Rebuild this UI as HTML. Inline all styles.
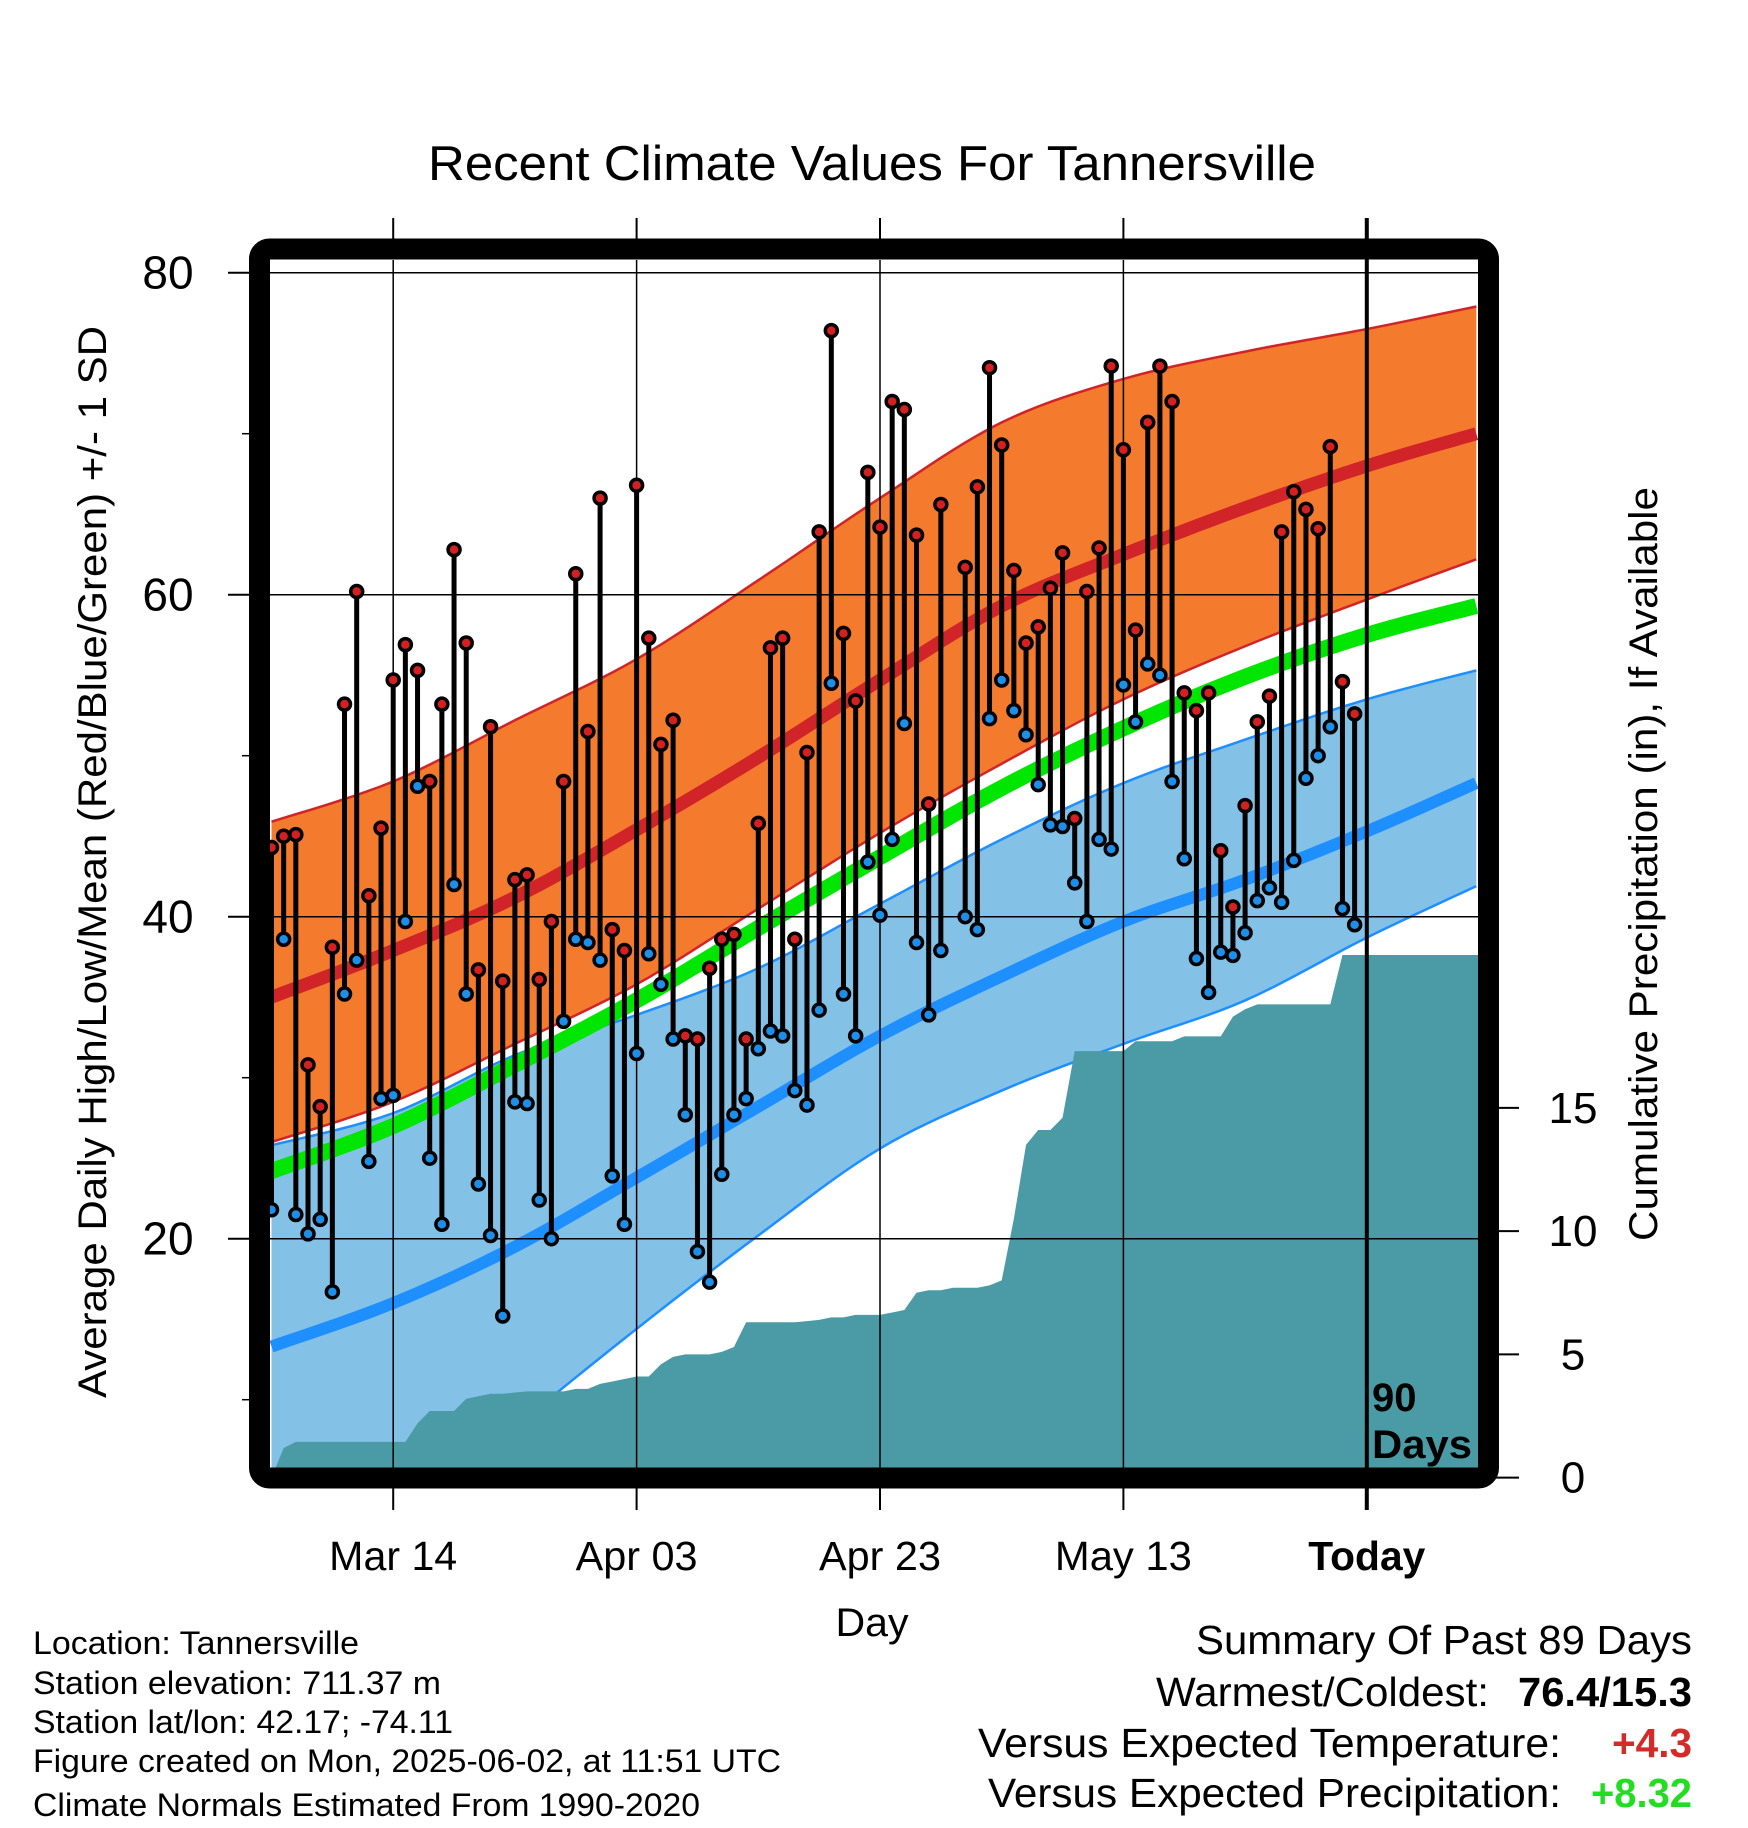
<!DOCTYPE html>
<html><head><meta charset="utf-8"><style>
body{margin:0;background:#fff;}
svg{display:block;font-family:"Liberation Sans",sans-serif;}
</style></head><body>
<svg id="chart" width="1748" height="1828" viewBox="0 0 1748 1828" xmlns="http://www.w3.org/2000/svg">
<text x="872" y="180" font-size="49" text-anchor="middle" textLength="888" lengthAdjust="spacingAndGlyphs">Recent Climate Values For Tannersville</text>
<defs><clipPath id="plotclip"><rect x="270" y="260" width="1208" height="1208"/></clipPath></defs>
<g id="plot" clip-path="url(#plotclip)"></g>
<g id="overlay"></g>
<text transform="translate(106,862) rotate(-90)" font-size="40" text-anchor="middle" textLength="1072" lengthAdjust="spacingAndGlyphs">Average Daily High/Low/Mean (Red/Blue/Green) +/- 1 SD</text>
<text transform="translate(1657,864) rotate(-90)" font-size="40" text-anchor="middle" textLength="754" lengthAdjust="spacingAndGlyphs">Cumulative Precipitation (in), If Available</text>
<text x="872" y="1636" font-size="40" text-anchor="middle" textLength="73" lengthAdjust="spacingAndGlyphs">Day</text>
<g font-size="32" lengthAdjust="spacingAndGlyphs">
<text x="33" y="1654" textLength="326" lengthAdjust="spacingAndGlyphs">Location: Tannersville</text>
<text x="33" y="1694" textLength="408" lengthAdjust="spacingAndGlyphs">Station elevation: 711.37 m</text>
<text x="33" y="1733" textLength="420" lengthAdjust="spacingAndGlyphs">Station lat/lon: 42.17; -74.11</text>
<text x="33" y="1772" textLength="748" lengthAdjust="spacingAndGlyphs">Figure created on Mon, 2025-06-02, at 11:51 UTC</text>
<text x="33" y="1816" textLength="667" lengthAdjust="spacingAndGlyphs">Climate Normals Estimated From 1990-2020</text>
</g>
<g font-size="41">
<text x="1196" y="1654" textLength="496" lengthAdjust="spacingAndGlyphs">Summary Of Past 89 Days</text>
<text x="1156" y="1706" textLength="333" lengthAdjust="spacingAndGlyphs">Warmest/Coldest:</text>
<text x="1518" y="1706" font-weight="bold" textLength="174" lengthAdjust="spacingAndGlyphs">76.4/15.3</text>
<text x="978" y="1757" textLength="583" lengthAdjust="spacingAndGlyphs">Versus Expected Temperature:</text>
<text x="1612" y="1757" font-weight="bold" fill="#d42a2a" textLength="80" lengthAdjust="spacingAndGlyphs">+4.3</text>
<text x="988" y="1807" textLength="573" lengthAdjust="spacingAndGlyphs">Versus Expected Precipitation:</text>
<text x="1591" y="1807" font-weight="bold" fill="#22dd22" textLength="101" lengthAdjust="spacingAndGlyphs">+8.32</text>
</g>
</svg>
<script>
const highs=[44.3,45.0,45.1,30.8,28.2,38.1,53.2,60.2,41.3,45.5,54.7,56.9,55.3,48.4,53.2,62.8,57.0,36.7,51.8,36.0,42.3,42.6,36.1,39.7,48.4,61.3,51.5,66.0,39.2,37.9,66.8,57.3,50.7,52.2,32.6,32.4,36.8,38.6,38.9,32.4,45.8,56.7,57.3,38.6,50.2,63.9,76.4,57.6,53.4,67.6,64.2,72.0,71.5,63.7,47.0,65.6,null,61.7,66.7,74.1,69.3,61.5,57.0,58.0,60.4,62.6,46.1,60.2,62.9,74.2,69.0,57.8,70.7,74.2,72.0,53.9,52.8,53.9,44.1,40.6,46.9,52.1,53.7,63.9,66.4,65.3,64.1,69.2,54.6,52.6];
const lows=[21.8,38.6,21.5,20.3,21.2,16.7,35.2,37.3,24.8,28.7,28.9,39.7,48.1,25.0,20.9,42.0,35.2,23.4,20.2,15.2,28.5,28.4,22.4,20.0,33.5,38.6,38.4,37.3,23.9,20.9,31.5,37.7,35.8,32.4,27.7,19.2,17.3,24.0,27.7,28.7,31.8,32.9,32.6,29.2,28.3,34.2,54.5,35.2,32.6,43.4,40.1,44.8,52.0,38.4,33.9,37.9,null,40.0,39.2,52.3,54.7,52.8,51.3,48.2,45.7,45.6,42.1,39.7,44.8,44.2,54.4,52.1,55.7,55.0,48.4,43.6,37.4,35.3,37.8,37.6,39.0,41.0,41.8,40.9,43.5,48.6,50.0,51.8,40.5,39.5];
const precip=[0.0,1.2,1.45,1.45,1.45,1.45,1.45,1.45,1.45,1.45,1.45,1.45,2.2,2.7,2.7,2.7,3.2,3.3,3.4,3.4,3.45,3.5,3.5,3.5,3.5,3.6,3.6,3.8,3.9,4.0,4.1,4.1,4.6,4.9,5.0,5.0,5.0,5.1,5.3,6.3,6.3,6.3,6.3,6.3,6.35,6.4,6.5,6.5,6.6,6.6,6.6,6.7,6.8,7.5,7.6,7.6,7.7,7.7,7.7,7.8,8.0,10.5,13.5,14.1,14.1,14.6,17.3,17.3,17.3,17.3,17.3,17.7,17.7,17.7,17.7,17.9,17.9,17.9,17.9,18.7,19.0,19.2,19.2,19.2,19.2,19.2,19.2,19.2,21.2,21.2];
const normDays=[0,10,20,30,40,50,60,70,80,90,99];
const highUpper=[45.9,48.4,52.2,56.0,60.9,66.0,70.7,73.4,75.1,76.5,77.9];
const highMean=[35.0,37.9,41.2,45.4,49.9,54.7,59.3,62.5,65.4,68.0,70.0];
const highLower=[26.0,28.5,32.1,35.8,40.5,45.2,49.5,53.5,56.8,59.7,62.2];
const avgMean=[24.2,27.0,30.8,34.8,39.3,43.7,48.0,51.7,54.9,57.5,59.3];
const lowUpper=[25.8,27.8,31.4,33.9,36.8,40.8,44.8,48.3,51.0,53.5,55.3];
const lowMean=[13.3,16.0,19.5,23.8,28.2,32.6,36.3,39.7,42.3,45.3,48.3];
const lowLower=[-4.0,2.0,8.3,14.4,20.2,25.6,29.2,32.1,34.8,38.7,41.9];
const yTicks=[20,40,60,80];
const yMinor=[10,30,50,70];
const pTicks=[0,5,10,15];
const xTickDays=[10,30,50,70,90];
const xTickLabels=["Mar 14","Apr 03","Apr 23","May 13","Today"];
const xTickWidths=[128,122,122,137,117];

const NS="http://www.w3.org/2000/svg";
const X=d=>271.5+12.17*d;
const Y=v=>272.7+(80-v)*16.1;
const YP=p=>1477.6-24.65*p;
const plot=document.getElementById('plot');
const ov=document.getElementById('overlay');
function mk(tag,attrs,parent){const e=document.createElementNS(NS,tag);for(const k in attrs)e.setAttribute(k,attrs[k]);parent.appendChild(e);return e;}
function curvePts(vals){
  const pts=normDays.map((d,i)=>[X(d),Y(vals[i])]);
  const out=[];
  for(let i=0;i<pts.length-1;i++){
    const p0=pts[Math.max(0,i-1)],p1=pts[i],p2=pts[i+1],p3=pts[Math.min(pts.length-1,i+2)];
    for(let t=0;t<1;t+=0.1){
      const t2=t*t,t3=t2*t;
      const f=(a,b,c,d)=>0.5*((2*b)+(-a+c)*t+(2*a-5*b+4*c-d)*t2+(-a+3*b-3*c+d)*t3);
      out.push([f(p0[0],p1[0],p2[0],p3[0]),f(p0[1],p1[1],p2[1],p3[1])]);
    }
  }
  out.push(pts[pts.length-1]);
  return out;
}
function band(up,lo,fill,edge,name){
  const a=curvePts(up),b=curvePts(lo).reverse();
  const d='M'+a.map(p=>p.join(',')).join('L')+'L'+b.map(p=>p.join(',')).join('L')+'Z';
  const e=mk('path',{d:d,fill:fill},plot);
  
  
  [up,lo].forEach(v=>{const l=mk('path',{d:'M'+curvePts(v).map(p=>p.join(',')).join('L'),fill:'none',stroke:edge,'stroke-width':2.5},plot);
  
  });
}
function line(vals,color,w,name){
  const l=mk('path',{d:'M'+curvePts(vals).map(p=>p.join(',')).join('L'),fill:'none',stroke:color,'stroke-width':w},plot);
  
  
}
band(lowUpper,lowLower,'#84c1e6','#1e8fff','low-sd-band');
band(highUpper,highLower,'#f47a2e','#d02428','high-sd-band');
let pd='M'+X(0)+',1470';
precip.forEach((p,i)=>{pd+='L'+X(i)+','+YP(p);});
pd+='L1480,'+YP(precip[precip.length-1])+'L1480,1470Z';
const pr=mk('path',{d:pd,fill:'#4a9ba5'},plot);


line(highMean,'#d02428',13,'high-mean-line');
line(avgMean,'#00e600',16,'avg-mean-line');
line(lowMean,'#1e8fff',12,'low-mean-line');
yTicks.forEach(v=>{const g=mk('line',{x1:270,x2:1478,y1:Y(v),y2:Y(v),stroke:'#000','stroke-width':1.5},plot);

});
xTickDays.forEach(d=>{const g=mk('line',{x1:X(d),x2:X(d),y1:260,y2:1468,stroke:'#000','stroke-width':1.5},plot);

});
highs.forEach((h,i)=>{
  const l=lows[i]; if(h==null||l==null)return;
  const s=mk('line',{x1:X(i),x2:X(i),y1:Y(h),y2:Y(l),stroke:'#000','stroke-width':5},plot);
  
  
});
highs.forEach((h,i)=>{
  const l=lows[i]; if(h==null||l==null)return;
  const c1=mk('circle',{cx:X(i),cy:Y(h),r:6,fill:'#d42020',stroke:'#000','stroke-width':3.5},plot);
  
  
  const c2=mk('circle',{cx:X(i),cy:Y(l),r:6,fill:'#1e8fe8',stroke:'#000','stroke-width':3.5},plot);
  
  
});
const td=mk('line',{x1:X(90),x2:X(90),y1:218,y2:1510,stroke:'#000','stroke-width':4},ov);


const t90=mk('text',{x:1372,y:1411,'font-size':40,'font-weight':'bold'},ov);t90.textContent='90';


const tdy=mk('text',{x:1372,y:1458,'font-size':40,'font-weight':'bold',textLength:100,lengthAdjust:'spacingAndGlyphs'},ov);tdy.textContent='Days';


const bd=mk('rect',{x:259.5,y:249,width:1229,height:1229,rx:10,fill:'none',stroke:'#000','stroke-width':21},ov);


yTicks.forEach(v=>{
  const t=mk('line',{x1:228,x2:255,y1:Y(v),y2:Y(v),stroke:'#000','stroke-width':2},ov);
  
  
  const tx=mk('text',{x:168,y:Y(v)+16,'font-size':46,'text-anchor':'middle'},ov);tx.textContent=v;
  
  
});
yMinor.forEach(v=>{
  const t=mk('line',{x1:242,x2:255,y1:Y(v),y2:Y(v),stroke:'#000','stroke-width':1.5},ov);
  
  
});
pTicks.forEach(p=>{
  const t=mk('line',{x1:1495,x2:1519,y1:YP(p),y2:YP(p),stroke:'#000','stroke-width':2},ov);
  
  
  const tx=mk('text',{x:1573,y:YP(p)+15,'font-size':44,'text-anchor':'middle'},ov);tx.textContent=p;
  
  
});
xTickDays.forEach((d,i)=>{
  const t=mk('line',{x1:X(d),x2:X(d),y1:218,y2:240,stroke:'#000','stroke-width':2},ov);
  
  
  const b=mk('line',{x1:X(d),x2:X(d),y1:1486,y2:1510,stroke:'#000','stroke-width':2},ov);
  
  
  const tx=mk('text',{x:X(d),y:1570,'font-size':41,'text-anchor':'middle',textLength:xTickWidths[i],lengthAdjust:'spacingAndGlyphs'},ov);tx.textContent=xTickLabels[i];
  if(xTickLabels[i]==='Today')tx.setAttribute('font-weight','bold');
  
  
});
</script>
</body></html>
